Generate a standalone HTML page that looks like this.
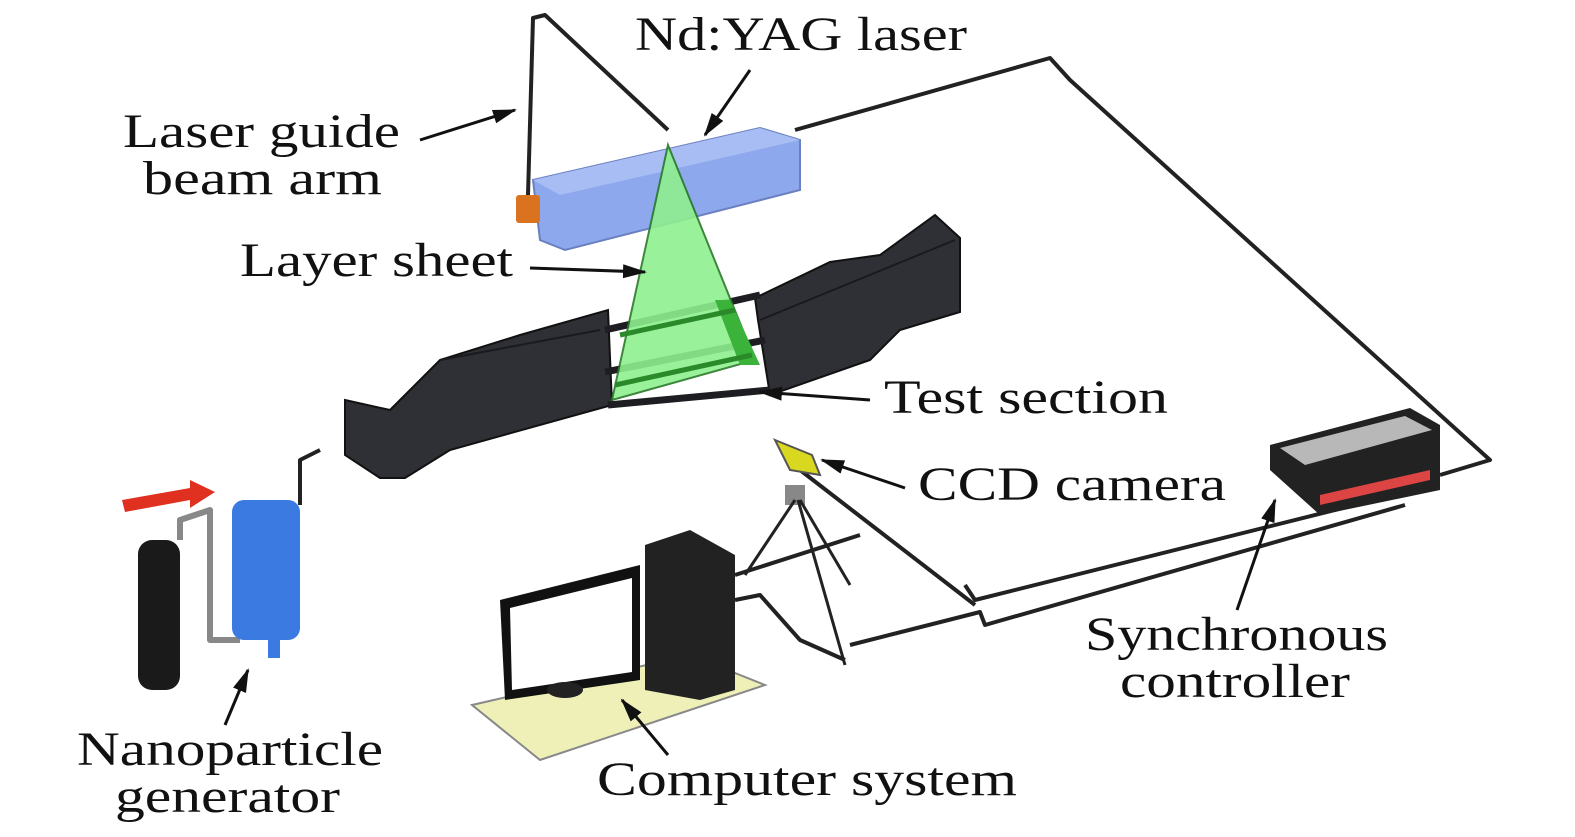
<!DOCTYPE html>
<html><head><meta charset="utf-8"><style>
html,body{margin:0;padding:0;background:#fff}
svg{display:block}
text{font-family:"Liberation Serif",serif;font-size:48px;fill:#111}
</style></head><body>
<svg width="1575" height="837" viewBox="0 0 1575 837" xmlns="http://www.w3.org/2000/svg">
<defs><marker id="ah" markerWidth="24" markerHeight="16" refX="22" refY="8" orient="auto" markerUnits="userSpaceOnUse"><path d="M0,1 L24,8 L0,15 Z" fill="#111"/></marker></defs>
<!-- wires -->
<g fill="none" stroke="#222" stroke-width="4" stroke-linejoin="round">
<path d="M795,130 L1050,58 L1070,80 L1490,460 L1440,475"/>
<path d="M1405,505 L985,625 L980,612 L850,645"/>
<path d="M1395,495 L975,600 L965,585"/>
<path d="M735,600 L760,595 L800,640 L845,660"/>
<path d="M735,575 L860,535"/>
<path d="M800,470 L975,605"/>
<path d="M528,195 L533,18 L545,15 L668,130"/>
<path d="M300,505 L300,460 L320,450"/>
<path d="M180,540 L180,520 L210,510 L210,640 L240,640" stroke="#888" stroke-width="6"/>
</g>
<!-- laser box -->
<polygon points="533,180 760,128 800,140 800,190 565,250 540,240" fill="#8ea8ee" stroke="#6a80c0" stroke-width="2"/>
<polygon points="533,180 760,128 800,140 560,195" fill="#a9bdf5"/>
<rect x="516" y="195" width="24" height="28" fill="#d9731f" rx="3"/>
<!-- tunnel -->
<polygon points="345,400 390,410 440,360 520,335 608,310 612,405 450,450 405,478 380,478 345,455" fill="#2f3036" stroke="#111" stroke-width="2"/>
<polygon points="755,298 830,262 880,255 935,215 960,238 960,312 900,330 870,360 770,395 758,320" fill="#2f3036" stroke="#111" stroke-width="2"/>
<path d="M440,360 L600,330 M760,320 L955,240" stroke="#1a1a1e" stroke-width="2" fill="none"/>
<path d="M605,330 L760,295 M605,372 L765,340 M608,405 L770,390" stroke="#1d1d22" stroke-width="7"/>
<!-- green sheet -->
<polygon points="668,145 755,360 612,400" fill="#8ef08e" stroke="#2a7a2a" stroke-width="2" opacity="0.9"/>
<polygon points="730,300 760,365 740,365 715,300" fill="#3bb33b"/>
<path d="M615,385 L752,355 M620,335 L735,310" stroke="#2a8a2a" stroke-width="5"/>
<!-- generator -->
<rect x="138" y="540" width="42" height="150" rx="14" fill="#1a1a1a"/>
<rect x="232" y="500" width="68" height="140" rx="12" fill="#3b7ae0"/>
<rect x="268" y="640" width="12" height="18" fill="#3b7ae0"/>
<polygon points="122,500 190,488 190,480 215,492 190,508 190,500 125,512" fill="#e03020"/>
<!-- camera & tripod -->
<polygon points="775,440 812,455 820,475 790,470" fill="#d8d820" stroke="#555" stroke-width="2"/>
<rect x="785" y="485" width="20" height="20" fill="#888"/>
<g stroke="#222" stroke-width="3"><line x1="795" y1="500" x2="745" y2="575"/><line x1="800" y1="500" x2="850" y2="585"/><line x1="798" y1="500" x2="845" y2="665"/></g>
<!-- computer -->
<polygon points="472,705 690,655 765,685 540,760" fill="#eef0b8" stroke="#888" stroke-width="2"/>
<polygon points="500,600 640,565 640,680 505,700" fill="#111"/>
<polygon points="510,608 632,578 632,672 512,690" fill="#fff"/>
<ellipse cx="565" cy="690" rx="18" ry="8" fill="#222"/>
<polygon points="645,545 690,530 735,555 735,690 700,700 645,690" fill="#222"/>
<!-- controller -->
<polygon points="1270,445 1410,408 1440,425 1440,490 1320,515 1270,470" fill="#222"/>
<polygon points="1280,448 1405,416 1432,430 1305,465" fill="#b8b8b8"/>
<polygon points="1320,495 1430,470 1430,480 1320,505" fill="#d44"/>
<!-- arrows -->
<g stroke="#111" stroke-width="3" fill="none" marker-end="url(#ah)">
<line x1="420" y1="140" x2="515" y2="110"/>
<line x1="750" y1="70" x2="705" y2="135"/>
<line x1="530" y1="268" x2="645" y2="272"/>
<line x1="870" y1="400" x2="760" y2="392"/>
<line x1="905" y1="488" x2="822" y2="460"/>
<line x1="1237" y1="610" x2="1275" y2="500"/>
<line x1="225" y1="725" x2="248" y2="670"/>
<line x1="668" y1="755" x2="622" y2="700"/>
</g>
<!-- labels -->
<text x="635" y="50" textLength="332" lengthAdjust="spacingAndGlyphs">Nd:YAG laser</text>
<text x="123" y="147" textLength="277" lengthAdjust="spacingAndGlyphs">Laser guide</text>
<text x="143" y="194" textLength="239" lengthAdjust="spacingAndGlyphs">beam arm</text>
<text x="240" y="276" textLength="273" lengthAdjust="spacingAndGlyphs">Layer sheet</text>
<text x="884" y="413" textLength="284" lengthAdjust="spacingAndGlyphs">Test section</text>
<text x="918" y="500" textLength="308" lengthAdjust="spacingAndGlyphs">CCD camera</text>
<text x="1085" y="650" textLength="303" lengthAdjust="spacingAndGlyphs">Synchronous</text>
<text x="1120" y="697" textLength="230" lengthAdjust="spacingAndGlyphs">controller</text>
<text x="77" y="765" textLength="306" lengthAdjust="spacingAndGlyphs">Nanoparticle</text>
<text x="115" y="812" textLength="225" lengthAdjust="spacingAndGlyphs">generator</text>
<text x="597" y="795" textLength="420" lengthAdjust="spacingAndGlyphs">Computer system</text>
</svg>
</body></html>
